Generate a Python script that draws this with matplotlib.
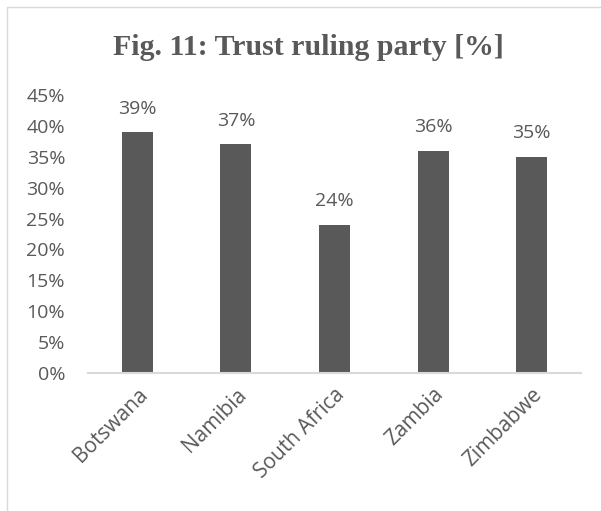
import matplotlib
matplotlib.use("Agg")
import matplotlib.pyplot as plt
from matplotlib.patches import Rectangle
import matplotlib.transforms as mtransforms

categories = ["Botswana", "Namibia", "South Africa", "Zambia", "Zimbabwe"]
values = [39, 37, 24, 36, 35]
yticks = [0, 5, 10, 15, 20, 25, 30, 35, 40, 45]
title = "Fig. 11: Trust ruling party [%]"

txt = "#595959"
W, H = 601, 511
fig = plt.figure(figsize=(W / 100, H / 100), dpi=100)
fig.patches.append(Rectangle((7 / W, -0.1), 1.2, 1 - 7 / H + 0.1, transform=fig.transFigure,
                             fill=False, edgecolor="#d9d9d9", linewidth=1.0))
ax = fig.add_axes([88 / W, 1 - 373 / H, (581 - 88) / W, (373 - 95) / H])
x = range(len(categories))
ax.bar(x, values, width=0.315, color="#595959")
ax.set_xlim(-0.5, len(categories) - 0.5)
ax.set_ylim(0, 45)
ax.set_yticks(yticks)
ax.set_yticklabels([f"{v}%" for v in yticks], fontsize=14, color=txt, family="Open Sans")
ax.set_xticks(list(x))
ax.set_xticklabels(categories, fontsize=15, color=txt, family="Open Sans",
                   rotation=45, ha="right", va="top", rotation_mode="anchor")
offset = mtransforms.ScaledTranslation(-0.6 / 72, -20.8 / 72, fig.dpi_scale_trans)
for lab in ax.get_xticklabels():
    lab.set_transform(lab.get_transform() + offset)
ax.tick_params(axis="y", length=0, pad=16.5)
ax.tick_params(axis="x", length=0, pad=8)
for s in ["top", "right", "left"]:
    ax.spines[s].set_visible(False)
ax.spines["bottom"].set_color("#d9d9d9")
ax.spines["bottom"].set_linewidth(1.5)
for xi, v in zip(x, values):
    ax.annotate(f"{v}%", (xi, v), xytext=(0, 10.4), textcoords="offset points",
                ha="center", va="bottom", fontsize=14, color=txt, family="Open Sans")
fig.text(308 / W, 1 - 55 / H, title, ha="center", va="baseline", fontsize=21.5,
         fontweight="bold", family="Liberation Serif", color=txt)
fig.savefig("out.png", dpi=100, facecolor="white")
